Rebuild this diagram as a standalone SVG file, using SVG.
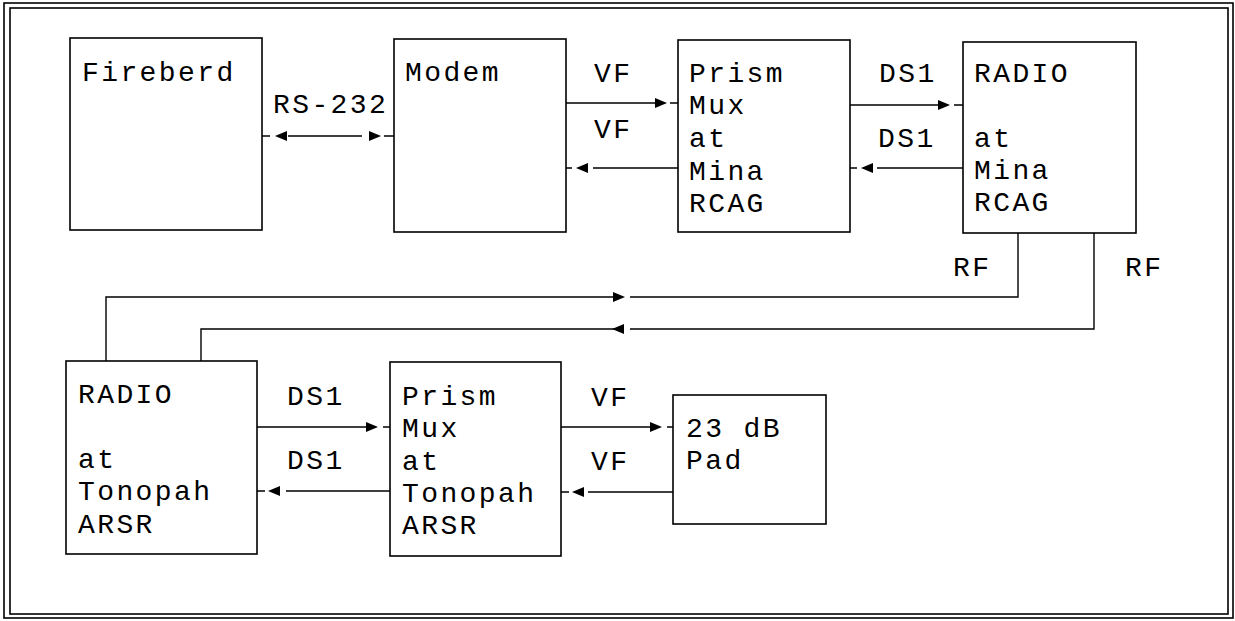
<svg xmlns="http://www.w3.org/2000/svg" width="1235" height="621" viewBox="0 0 1235 621">
<style>
.frame{fill:none;stroke:#000;stroke-width:1.6}
.box{fill:#fff;stroke:#000;stroke-width:1.6}
.ln{fill:none;stroke:#000;stroke-width:1.4}
.ah{fill:#000}
text{font-family:"Liberation Mono","Courier New",monospace;font-size:28px;letter-spacing:2.4px;fill:#000}
</style>
<rect width="1235" height="621" fill="#fff"/>
<g id="frame">
<rect class="frame" x="4" y="3" width="1229" height="615"/>
<rect class="frame" x="10" y="8" width="1218" height="606"/>
</g>
<g id="connectors">
<path class="ln" d="M262,136 H270 M288,136 H362 M384,136 H394"/>
<polygon class="ah" points="275,136 287,131 287,141"/>
<polygon class="ah" points="381,136 369,131 369,141"/>
<path class="ln" d="M566,103 H655 M670,103 H678"/>
<polygon class="ah" points="667,103 655,98 655,108"/>
<path class="ln" d="M566,168 H572 M593,168 H678"/>
<polygon class="ah" points="576,168 588,163 588,173"/>
<path class="ln" d="M850,105 H938 M954,105 H963"/>
<polygon class="ah" points="950,105 938,100 938,110"/>
<path class="ln" d="M850,168 H857 M877,168 H963"/>
<polygon class="ah" points="861,168 873,163 873,173"/>
<path class="ln" d="M1018,233 V297 H630 M613,297 H106 V361"/>
<polygon class="ah" points="625,297 613,292 613,302"/>
<path class="ln" d="M1094,233 V329 H630 M624,329 H201 V361"/>
<polygon class="ah" points="612,329 624,324 624,334"/>
<path class="ln" d="M257,427 H366 M383,427 H390"/>
<polygon class="ah" points="378,427 366,422 366,432"/>
<path class="ln" d="M257,491 H265 M286,491 H390"/>
<polygon class="ah" points="268,491 280,486 280,496"/>
<path class="ln" d="M561,427 H651 M667,427 H673"/>
<polygon class="ah" points="662,427 650,422 650,432"/>
<path class="ln" d="M561,492 H569 M588,492 H673"/>
<polygon class="ah" points="572,492 584,487 584,497"/>
</g>
<g id="labels">
<text x="273" y="113">RS-232</text>
<text x="594" y="82">VF</text>
<text x="594" y="138">VF</text>
<text x="879" y="82">DS1</text>
<text x="878" y="147">DS1</text>
<text x="953" y="276">RF</text>
<text x="1125" y="276">RF</text>
<text x="287" y="405">DS1</text>
<text x="287" y="469">DS1</text>
<text x="591" y="406">VF</text>
<text x="591" y="470">VF</text>
</g>
<g id="fireberd">
<rect class="box" x="70" y="38" width="192" height="192"/>
<text x="82" y="81">Fireberd</text>
</g>
<g id="modem">
<rect class="box" x="394" y="39" width="172" height="193"/>
<text x="405" y="81">Modem</text>
</g>
<g id="prism-mina">
<rect class="box" x="678" y="40" width="172" height="192"/>
<text x="689" y="82">Prism</text>
<text x="689" y="114">Mux</text>
<text x="689" y="147">at</text>
<text x="689" y="180">Mina</text>
<text x="689" y="212">RCAG</text>
</g>
<g id="radio-mina">
<rect class="box" x="963" y="42" width="173" height="191"/>
<text x="974" y="82">RADIO</text>
<text x="974" y="147">at</text>
<text x="974" y="179">Mina</text>
<text x="974" y="211">RCAG</text>
</g>
<g id="radio-tonopah">
<rect class="box" x="66" y="361" width="191" height="193"/>
<text x="78" y="403">RADIO</text>
<text x="78" y="468">at</text>
<text x="78" y="500">Tonopah</text>
<text x="78" y="533">ARSR</text>
</g>
<g id="prism-tonopah">
<rect class="box" x="390" y="362" width="171" height="194"/>
<text x="402" y="405">Prism</text>
<text x="402" y="437">Mux</text>
<text x="402" y="470">at</text>
<text x="402" y="502">Tonopah</text>
<text x="402" y="534">ARSR</text>
</g>
<g id="pad">
<rect class="box" x="673" y="395" width="153" height="129"/>
<text x="686" y="437">23 dB</text>
<text x="686" y="469">Pad</text>
</g>
</svg>
